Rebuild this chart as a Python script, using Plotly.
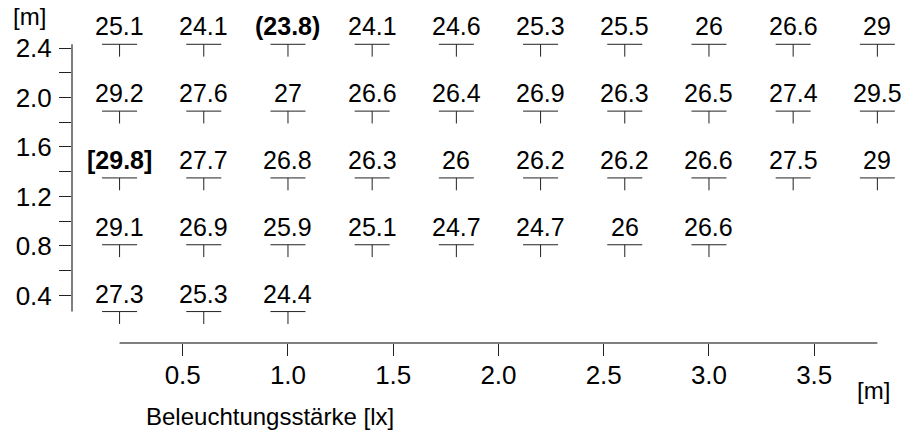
import plotly.graph_objects as go

# Measurement grid (metres)
cols = [0.2, 0.6, 1.0, 1.4, 1.8, 2.2, 2.6, 3.0, 3.4, 3.8]
rows = [2.43, 1.89, 1.35, 0.81, 0.27]

# Illuminance readings per row [lx], left to right
lux_243 = [25.1, 24.1, 23.8, 24.1, 24.6, 25.3, 25.5, 26, 26.6, 29]
lux_189 = [29.2, 27.6, 27, 26.6, 26.4, 26.9, 26.3, 26.5, 27.4, 29.5]
lux_135 = [29.8, 27.7, 26.8, 26.3, 26, 26.2, 26.2, 26.6, 27.5, 29]
lux_081 = [29.1, 26.9, 25.9, 25.1, 24.7, 24.7, 26, 26.6]
lux_027 = [27.3, 25.3, 24.4]

x_ticks = [0.5, 1.0, 1.5, 2.0, 2.5, 3.0, 3.5]
y_ticks = [0.4, 0.8, 1.2, 1.6, 2.0, 2.4]
y_minor = [0.6, 1.0, 1.4, 1.8, 2.2]

FONT = "Liberation Sans, Arial, sans-serif"
INK = "#222222"
AXIS = "#7f7f7f"

xs, ys, vals = [], [], []
for y, row in zip(rows, [lux_243, lux_189, lux_135, lux_081, lux_027]):
    for x, v in zip(cols, row):
        xs.append(x)
        ys.append(y)
        vals.append(v)

vmin, vmax = min(vals), max(vals)


def label(v):
    s = f"{v:g}"
    if v == vmin:
        return f"<b>({s})</b>"
    if v == vmax:
        return f"<b>[{s}]</b>"
    return s


fig = go.Figure()

# Point markers: horizontal bar with a short downward stem
fig.add_trace(go.Scatter(
    x=xs, y=ys, mode="markers",
    marker=dict(symbol="line-ew", size=25, color=INK,
                line=dict(width=1, color=INK)),
    error_y=dict(type="data", symmetric=False,
                 array=[0] * len(ys), arrayminus=[0.1] * len(ys),
                 width=0, thickness=1, color=INK),
    hoverinfo="skip", showlegend=False,
))

annotations = [
    dict(x=x, y=y, xref="x", yref="y", text=label(v), showarrow=False,
         xanchor="center", yanchor="bottom", yshift=2,
         font=dict(family=FONT, size=25, color="black"))
    for x, y, v in zip(xs, ys, vals)
]

annotations += [
    dict(x=-0.052, y=0.982, xref="paper", yref="paper", text="[m]",
         showarrow=False, xanchor="center", yanchor="middle",
         font=dict(family=FONT, size=24, color="black")),
    dict(x=0.970, y=-0.142, xref="paper", yref="paper", text="[m]",
         showarrow=False, xanchor="center", yanchor="middle",
         font=dict(family=FONT, size=24, color="black")),
    dict(x=0.087, y=-0.22, xref="paper", yref="paper",
         text="Beleuchtungsstärke [lx]",
         showarrow=False, xanchor="left", yanchor="middle",
         font=dict(family=FONT, size=24, color="black")),
]

shapes = [
    # vertical axis line spanning the measured heights
    dict(type="line", xref="paper", yref="y", x0=0, x1=0,
         y0=min(rows), y1=max(rows), line=dict(color=AXIS, width=2)),
    # horizontal axis line spanning the measured positions
    dict(type="line", xref="x", yref="paper", x0=min(cols), x1=max(cols),
         y0=0, y1=0, line=dict(color=AXIS, width=2)),
]

fig.update_layout(
    width=904, height=436,
    margin=dict(l=72, r=6, t=11, b=93),
    paper_bgcolor="white", plot_bgcolor="white",
    font=dict(family=FONT, size=24, color="black"),
    annotations=annotations, shapes=shapes,
    xaxis=dict(range=[-0.026, 3.898], showgrid=False, zeroline=False,
               showline=False, ticks="outside", ticklen=12, tickwidth=1,
               tickcolor=INK, tickvals=x_ticks,
               ticktext=[f"{t:.1f}" for t in x_ticks],
               ticklabelstandoff=-3,
               tickfont=dict(family=FONT, size=26, color="black")),
    yaxis=dict(range=[0.016, 2.699], showgrid=False, zeroline=False,
               showline=False, ticks="outside", ticklen=12, tickwidth=1,
               tickcolor=INK, tickvals=y_ticks,
               ticktext=[f"{t:.1f}" for t in y_ticks],
               ticklabelstandoff=2,
               tickfont=dict(family=FONT, size=26, color="black"),
               minor=dict(tickvals=y_minor, ticks="outside", ticklen=12,
                          tickwidth=1, tickcolor=INK)),
)

fig.write_html("out.html")
